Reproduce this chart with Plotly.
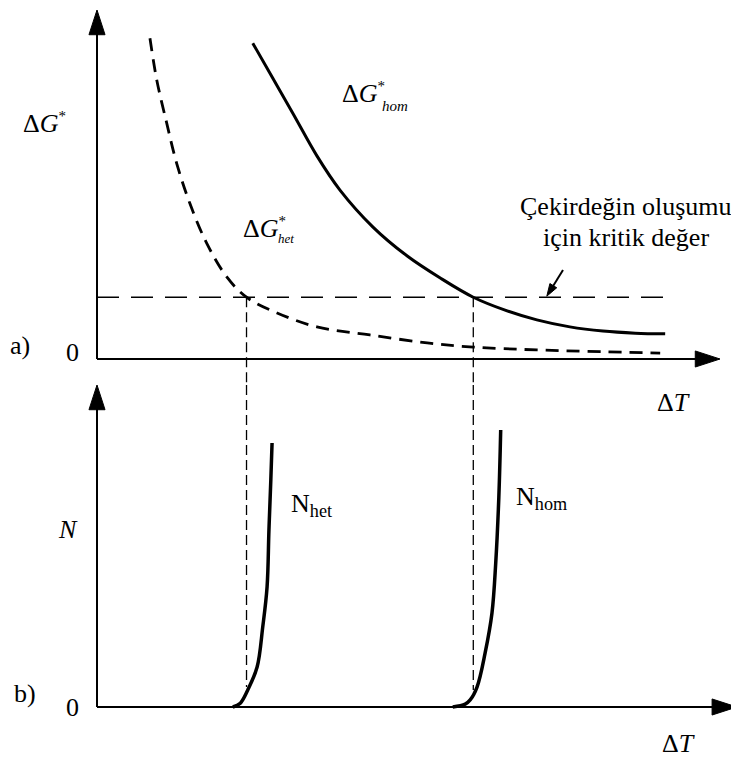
import plotly.graph_objects as go

# ---------------- data (schematic values) ----------------
# top panel: activation barrier vs undercooling
dT_het = [8.5, 9.6, 11.2, 12.8, 14.9, 17.6, 20.8, 24.0, 28.9, 35.3, 43.8, 53.0, 60.4, 70.6, 90.4]
G_het = [91.9, 79.9, 67.5, 56.0, 44.6, 33.2, 23.6, 17.7, 13.2, 9.2, 6.9, 4.6, 3.4, 2.6, 1.7]
dT_hom = [25.0, 28.2, 31.5, 35.3, 39.0, 44.3, 49.8, 55.1, 60.4, 65.5, 70.6, 75.9, 81.2, 86.4, 91.2]
G_hom = [90.5, 80.5, 70.2, 58.2, 48.4, 37.8, 29.5, 23.2, 17.7, 14.0, 11.2, 9.2, 8.0, 7.4, 7.2]
G_crit = 17.7            # critical value for nucleation
dT_cross = [24.0, 60.4]  # where het / hom curves reach the critical value
crit_line_dT = [0, 92.0]

# bottom panel: nucleation rate vs undercooling
dTn_het = [21.8, 23.0, 24.2, 25.7, 26.6, 27.3, 27.6, 27.9, 28.1]
N_het = [0, 1.2, 5.3, 12.4, 24.8, 37.3, 55.0, 70.5, 82.0]
dTn_hom = [57.1, 59.1, 59.9, 61.0, 62.3, 63.4, 64.0, 64.5, 64.8]
N_hom = [0, 0.9, 2.2, 6.2, 16.8, 29.2, 44.7, 65.2, 86.0]
N_at_cross = [6.2, 5.3]

AX_MAX_TOP_DT = 100
AX_MAX_BOT_DT = 102.7
AX_MAX_G = 100
AX_MAX_N = 100

# ---------------- layout calibration ----------------
W, H = 739, 758
BODY = 8  # default page margin of the html body
X0_PX, PX_PER_DT = 97 - BODY, 6.23
Y0_TOP_PX, PX_PER_G = 359 - BODY, 3.49
Y0_BOT_PX, PX_PER_N = 707 - BODY, 3.22
SPLIT_PX = 385 - BODY

x_range = [-X0_PX / PX_PER_DT, (W - X0_PX) / PX_PER_DT]
top_range = [-(SPLIT_PX - Y0_TOP_PX) / PX_PER_G, Y0_TOP_PX / PX_PER_G]
bot_range = [-(H - Y0_BOT_PX) / PX_PER_N, (Y0_BOT_PX - SPLIT_PX) / PX_PER_N]
split = (H - SPLIT_PX) / H

FONT = "Liberation Serif"
fig = go.Figure()

def line(x, y, yaxis, width, dash="solid", shape="linear"):
    fig.add_trace(go.Scatter(x=x, y=y, xaxis="x", yaxis=yaxis, mode="lines",
                             line=dict(color="black", width=width, dash=dash, shape=shape),
                             hoverinfo="skip", showlegend=False))

def arrow(x, y, yaxis, width=2, head=26):
    fig.add_trace(go.Scatter(x=x, y=y, xaxis="x", yaxis=yaxis, mode="lines+markers",
                             line=dict(color="black", width=width),
                             marker=dict(symbol="arrow", angleref="previous",
                                         size=[0, head], color="black", opacity=1,
                                         line=dict(color="black", width=1)),
                             hoverinfo="skip", showlegend=False))

# axes with arrows
arrow([0, 0], [0, AX_MAX_G], "y")
arrow([0, AX_MAX_TOP_DT], [0, 0], "y")
arrow([0, 0], [0, AX_MAX_N], "y2")
arrow([0, AX_MAX_BOT_DT], [0, 0], "y2")

# top panel curves
line(crit_line_dT, [G_crit, G_crit], "y", 1.7, "22px,12px")
line(dT_het, G_het, "y", 2.8, "13px,8px", "spline")
line(dT_hom, G_hom, "y", 3, "solid", "spline")
for xc in dT_cross:
    line([xc, xc], [G_crit, top_range[0]], "y", 1.3, "10px,5px")
# pointer to the critical line
arrow([74.8, 72.2], [25.5, 18.0], "y", width=2, head=13)

# bottom panel
for xc, nc in zip(dT_cross, N_at_cross):
    line([xc, xc], [bot_range[1], nc], "y2", 1.3, "10px,5px")
line(dTn_het, N_het, "y2", 3.5, "solid", "spline")
line(dTn_hom, N_hom, "y2", 3.5, "solid", "spline")

ann = []
def txt(x, y, t, yref, size=26, xanchor="center", yanchor="middle"):
    ann.append(dict(x=x, y=y, xref="x", yref=yref, text=t, showarrow=False,
                    xanchor=xanchor, yanchor=yanchor,
                    font=dict(family=FONT, size=size, color="black")))

star = "<sup><span style='font-size:15px'>*</span></sup>"
txt(-8.5, 67.6, "Δ<i>G</i>" + star, "y")
txt(39.0, 76.2, "Δ<i>G</i>" + star, "y", xanchor="left")
txt(45.4, 72.4, "<i>hom</i>", "y", size=15, xanchor="left")
txt(23.1, 37.5, "Δ<i>G</i>" + star, "y", xanchor="left")
txt(28.8, 34.6, "<i>het</i>", "y", size=13, xanchor="left")
txt(84.9, 43.6, "Çekirdeğin oluşumu", "y", size=26)
txt(84.9, 34.7, "için kritik değer", "y", size=26)
txt(-12.4, 4.0, "a)", "y")
txt(-3.9, 2.0, "0", "y")
txt(-11.6, 4.3, "b)", "y2")
txt(-3.9, 0, "0", "y2")
txt(-4.7, 55, "<i>N</i>", "y2")
txt(34.4, 62.7, "N<sub>het</sub>", "y2")
txt(71.4, 65, "N<sub>hom</sub>", "y2")
txt(92.5, 94.7, "Δ<i>T</i>", "y2")
txt(93.3, -11.2, "Δ<i>T</i>", "y2")

fig.update_layout(
    width=W, height=H, margin=dict(l=0, r=0, t=0, b=0),
    paper_bgcolor="white", plot_bgcolor="white",
    xaxis=dict(range=x_range, domain=[0, 1], visible=False, anchor="y"),
    yaxis=dict(range=top_range, domain=[split, 1], visible=False, anchor="x"),
    yaxis2=dict(range=bot_range, domain=[0, split], visible=False, anchor="x"),
    annotations=ann, showlegend=False,
)
fig.write_html("out.html")
